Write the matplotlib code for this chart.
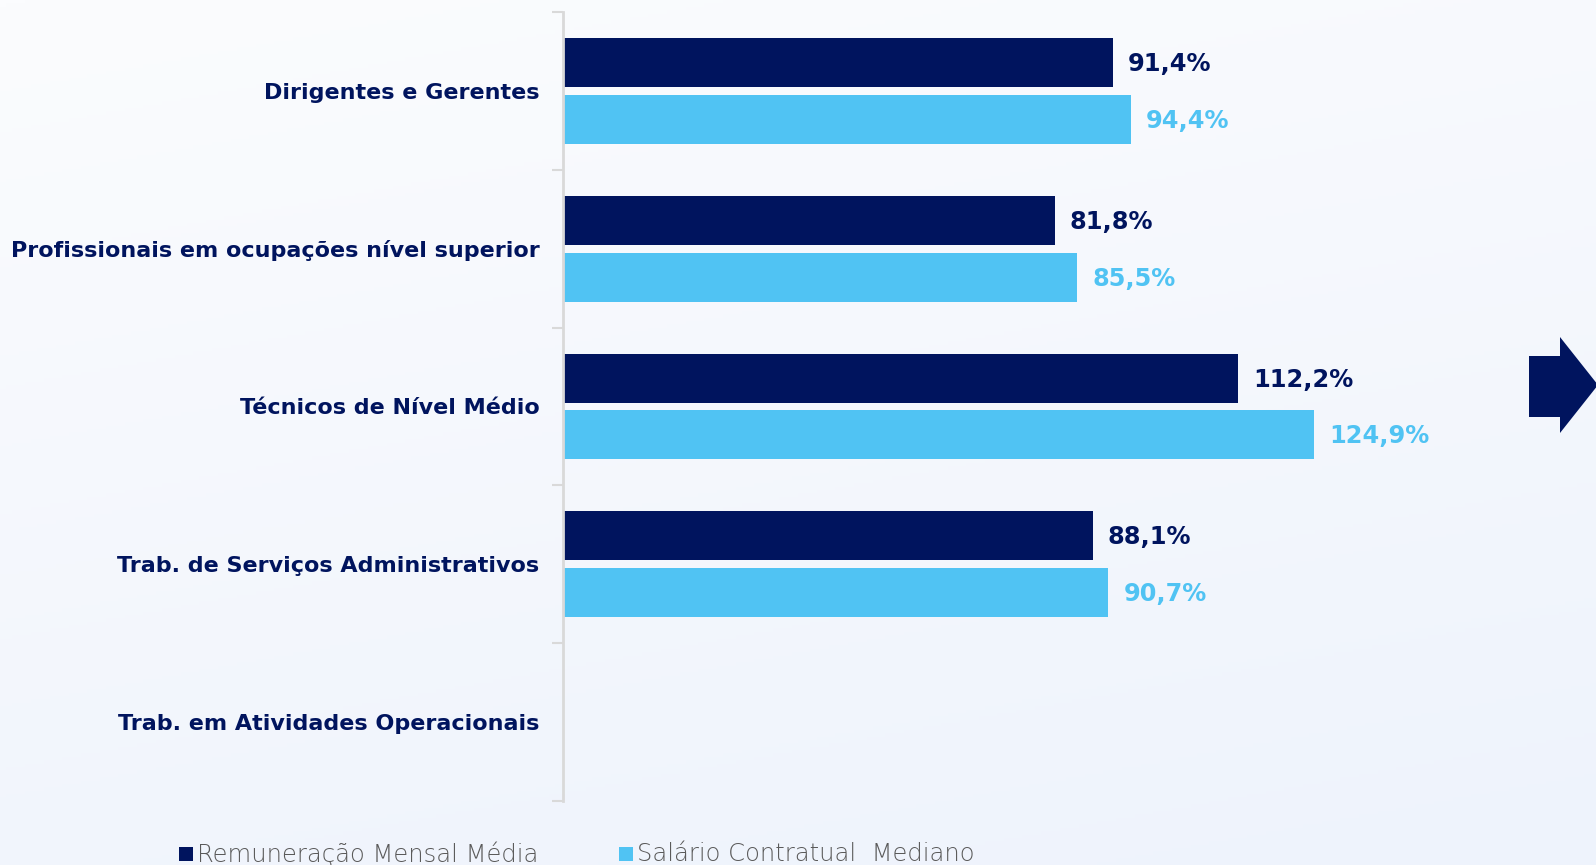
import matplotlib
matplotlib.use("Agg")
import matplotlib.pyplot as plt
import numpy as np
from matplotlib.patches import Rectangle, Polygon
from matplotlib.colors import LinearSegmentedColormap

categories = ["Dirigentes e Gerentes",
              "Profissionais em ocupações nível superior",
              "Técnicos de Nível Médio",
              "Trab. de Serviços Administrativos",
              "Trab. em Atividades Operacionais"]
remuneracao = [91.4, 81.8, 112.2, 88.1, None]
salario = [94.4, 85.5, 124.9, 90.7, None]
series_names = ["Remuneração Mensal Média", "Salário Contratual  Mediano"]

DARK = "#00145e"
LIGHT = "#50c3f3"
W, H = 1596, 865
fig = plt.figure(figsize=(W / 100, H / 100), dpi=100)

# background gradient
bg = fig.add_axes([0, 0, 1, 1], zorder=-10)
grad = np.linspace(0, 1, 256).reshape(-1, 1)
cmap = LinearSegmentedColormap.from_list("bg", ["#fbfcfe", "#eef3fc"])
xg = np.linspace(0, 1, 256)
G = (grad * 0.75 + xg.reshape(1, -1) * 0.25)
bg.imshow(G, aspect="auto", cmap=cmap, extent=[0, 1, 0, 1], origin="upper")
bg.set_axis_off()

ax_left, ax_right = 563, 1480
ax_top, ax_bot = 12, 801
pxper = 6.014
ax = fig.add_axes([ax_left / W, (H - ax_bot) / H, (ax_right - ax_left) / W, (ax_bot - ax_top) / H])
ax.set_facecolor("none")
n = len(categories)
y = np.arange(n)
bh = 0.31
off = 0.18
vfont = dict(fontsize=17.3, fontweight="bold", family=["DejaVu Sans"])
for i in range(n):
    if remuneracao[i] is not None:
        ax.barh(i - off, remuneracao[i], height=bh, color=DARK)
        ax.text(remuneracao[i] + 2.5, i - off + 0.01, f"{remuneracao[i]:.1f}%".replace(".", ","),
                va="center", ha="left", color=DARK, **vfont)
    if salario[i] is not None:
        ax.barh(i + off, salario[i], height=bh, color=LIGHT)
        ax.text(salario[i] + 2.5, i + off + 0.01, f"{salario[i]:.1f}%".replace(".", ","),
                va="center", ha="left", color=LIGHT, **vfont)

ax.set_xlim(0, (ax_right - ax_left) / pxper)
ax.set_ylim(n - 0.5, -0.5)
ax.set_yticks(y)
ax.set_yticklabels(categories, fontsize=16, fontweight="bold", color=DARK)
ax.tick_params(axis="y", length=0, pad=17)
ax.set_yticks(np.arange(n + 1) - 0.5, minor=True)
ax.tick_params(axis="y", which="minor", length=8, width=1.5, color="#d9d9d9")
ax.set_xticks([])
for s in ["top", "right", "bottom"]:
    ax.spines[s].set_visible(False)
ax.spines["left"].set_color("#d9d9d9")
ax.spines["left"].set_linewidth(2)

def fx(px):
    return px / W
def fy(py):
    return 1 - py / H

# arrow at right
arrow = Polygon([(fx(1529), fy(356)), (fx(1560), fy(356)), (fx(1560), fy(337)),
                 (fx(1598), fy(385)), (fx(1560), fy(433)), (fx(1560), fy(417)),
                 (fx(1529), fy(417))], closed=True, transform=fig.transFigure,
                facecolor=DARK, edgecolor="none")
fig.patches.append(arrow)

# legend
for (xs, name, col) in [(179, series_names[0], DARK), (619, series_names[1], LIGHT)]:
    fig.patches.append(Rectangle((fx(xs), fy(861)), 14 / W, 14 / H,
                                 transform=fig.transFigure, facecolor=col, edgecolor="none"))
    fig.text(fx(xs + 18), fy(854), name, fontsize=17.5, color="#5a5a5a",
             va="center", ha="left", fontweight="light")

fig.savefig("out.png", dpi=100)
